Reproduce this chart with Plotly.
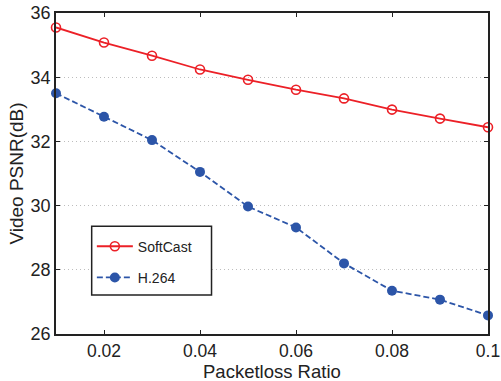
import plotly.graph_objects as go

loss_ratio = [0.01, 0.02, 0.03, 0.04, 0.05, 0.06, 0.07, 0.08, 0.09, 0.10]
softcast_psnr = [35.55, 35.08, 34.67, 34.24, 33.92, 33.61, 33.34, 32.99, 32.71, 32.44]
h264_psnr = [33.50, 32.77, 32.04, 31.05, 29.97, 29.32, 28.20, 27.35, 27.07, 26.58]
x_tick_vals = [0.02, 0.04, 0.06, 0.08, 0.1]
x_tick_text = ["0.02", "0.04", "0.06", "0.08", "0.1"]
y_tick_vals = [26, 28, 30, 32, 34, 36]

RED = "#ec2027"
BLUE = "#2c55a8"
INK = "#222222"
FONT = "Liberation Sans, Arial, sans-serif"

fig = go.Figure()
fig.add_trace(go.Scatter(
    x=loss_ratio, y=softcast_psnr, name="SoftCast", mode="lines+markers",
    legendgroup="a",
    line=dict(color=RED, width=1.8),
    marker=dict(symbol="circle-open", size=9, color=RED, line=dict(width=1.6, color=RED)),
    cliponaxis=False,
))
fig.add_trace(go.Scatter(
    x=loss_ratio, y=h264_psnr, name="H.264", mode="lines+markers",
    legendgroup="b",
    line=dict(color=BLUE, width=1.8, dash="6px,3px"),
    marker=dict(symbol="circle", size=10, color=BLUE),
    cliponaxis=False,
))

# legend frame
fig.add_shape(type="rect", xref="paper", yref="paper",
              x0=0.0826, x1=0.360, y0=0.1215, y1=0.336,
              line=dict(color=INK, width=1.5), fillcolor="white", layer="above")

# x-axis title as annotation for precise placement
fig.add_annotation(text="Packetloss Ratio", xref="paper", yref="paper",
                   x=0.5, y=-0.116, xanchor="center", yanchor="middle",
                   showarrow=False, font=dict(size=18.5, family=FONT, color=INK))

fig.update_layout(
    width=501, height=381,
    margin=dict(l=56, r=13, t=13, b=47, autoexpand=False),
    paper_bgcolor="white", plot_bgcolor="white",
    font=dict(family=FONT, color=INK),
    showlegend=True,
    legend=dict(
        x=0.083, y=0.322, xanchor="left", yanchor="top",
        bgcolor="rgba(0,0,0,0)", borderwidth=0,
        font=dict(size=14, family=FONT, color=INK),
        itemwidth=36, tracegroupgap=10,
    ),
    xaxis=dict(
        range=[0.01, 0.1], tickvals=x_tick_vals, ticktext=x_tick_text,
        ticks="inside", ticklen=4, tickcolor=INK, tickwidth=1.3,
        showline=True, linecolor=INK, linewidth=1.5, mirror="ticks",
        showgrid=False, zeroline=False, automargin=False,
        tickfont=dict(size=17.5, family=FONT, color=INK),
    ),
    yaxis=dict(
        range=[26, 36], tickvals=y_tick_vals,
        ticks="inside", ticklen=4, tickcolor=INK, tickwidth=1.3,
        showline=True, linecolor=INK, linewidth=1.5, mirror="ticks",
        showgrid=True, gridcolor="#bdbdbd", griddash="1px,3px", gridwidth=1,
        zeroline=False, automargin=False,
        tickfont=dict(size=18, family=FONT, color=INK),
        title=dict(text="Video PSNR(dB)", font=dict(size=19, family=FONT, color=INK), standoff=2),
    ),
)

fig.write_html("out.html")
